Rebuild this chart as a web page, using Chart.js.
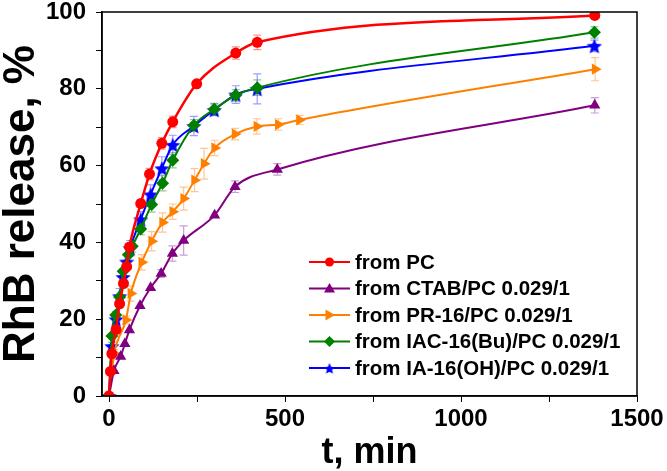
<!DOCTYPE html>
<html>
<head>
<meta charset="utf-8">
<script src="https://cdn.jsdelivr.net/npm/chart.js@4.4.1/dist/chart.umd.min.js"></script>
<style>
  html, body { margin: 0; padding: 0; background: #fff; }
</style>
</head>
<body>
<canvas id="releaseChart" width="667" height="471"></canvas>
<script>
// time (min), release (%), error bar half-length (%)
const pcT = [0, 4, 8, 20, 30, 41, 50, 58, 90, 115, 150, 181, 249, 360, 421, 1380];
const pcY = [0, 6.4, 11, 17.3, 24, 29.3, 33.7, 38.8, 50.1, 57.8, 65.8, 71.4, 81.3, 89.3, 92.1, 99.1];
const pcErr = [0, 0, 0, 0, 0, 0, 0, 0, 1, 1.5, 1.5, 1.5, 0, 1.6, 1.9, 0];

const ctabT = [0, 14, 33, 45, 58, 88, 118, 148, 180, 212, 300, 358, 478, 1380];
const ctabY = [0, 6.6, 10.3, 13.6, 17.2, 23.5, 28.2, 31.9, 37.1, 40.5, 47.1, 54.5, 59, 75.7];
const ctabErr = [0, 0, 0, 0, 0, 0, 0, 1, 2, 3.8, 0, 1.5, 1.5, 2];

const prT = [0, 15, 48, 62, 93, 121, 152, 181, 212, 243, 270, 300, 358, 420, 481, 541, 1381];
const prY = [0, 11.1, 19.8, 26.7, 34.8, 40.3, 45.2, 48, 51.4, 56.2, 60.5, 64.6, 68.2, 70.2, 70.7, 71.9, 85.1];
const prErr = [0, 1, 1, 2, 2, 2.5, 2.5, 2, 3, 3, 4, 2, 1.5, 2, 1.5, 1.2, 3];

const iacT = [0, 8, 19, 30, 40, 55, 66, 90, 121, 152, 181, 241, 299, 360, 421, 1379];
const iacY = [0, 15.6, 21.1, 25.8, 32.5, 36.8, 39, 43.5, 49.9, 55.4, 61.4, 70.5, 74.7, 78.3, 80.3, 94.7];
const iacErr = [0, 0, 0, 0, 0, 0, 1.5, 1.5, 2, 2, 2, 1.5, 1.5, 1.5, 2, 1.5];

const iaT = [0, 8, 20, 30, 40, 50, 60, 90, 118, 150, 181, 241, 299, 360, 421, 1379];
const iaY = [0, 13, 20, 26, 31, 35, 38.5, 46, 52.5, 59.3, 65.4, 70.3, 74.5, 78.5, 80, 91.2];
const iaErr = [0, 1, 2, 2, 2, 2, 2, 2, 2.5, 3, 2.5, 2.5, 1.5, 2.3, 3.9, 1.5];

const seriesNames = ["from PC", "from CTAB/PC 0.029/1", "from PR-16/PC 0.029/1",
                     "from IAC-16(Bu)/PC 0.029/1", "from IA-16(OH)/PC 0.029/1"];
const xTicks = [0, 250, 500, 750, 1000, 1250, 1500];
const yTicks = [0, 10, 20, 30, 40, 50, 60, 70, 80, 90, 100];

function pts(xs, ys) {
    return xs.map((x, i) => ({ x: x, y: ys[i] }));
}

// filled five-point star used as the blue marker
function makeStar(size, color) {
    const c = document.createElement("canvas");
    c.width = size; c.height = size;
    const g = c.getContext("2d");
    const r1 = size / 2, r2 = r1 * 0.45;
    g.beginPath();
    for (let i = 0; i < 10; i++) {
        const r = i % 2 ? r2 : r1;
        const a = -Math.PI / 2 + i * Math.PI / 5;
        g.lineTo(r1 + r * Math.cos(a), r1 + 1 + r * Math.sin(a));
    }
    g.closePath();
    g.fillStyle = color;
    g.fill();
    return c;
}
const starImg = makeStar(16, "#0000ff");
const starSmall = makeStar(12, "#0000ff");

// error bars drawn under the markers
const errorBars = {
    id: "errorBars",
    beforeDatasetsDraw(chart) {
        const ctx = chart.ctx;
        const xs = chart.scales.x, ys = chart.scales.y;
        chart.data.datasets.forEach(ds => {
            ctx.save();
            ctx.strokeStyle = ds.errColor;
            ctx.lineWidth = 1.2;
            ds.data.forEach((p, i) => {
                const e = ds.errors[i];
                if (!e) return;
                const px = xs.getPixelForValue(p.x);
                const top = ys.getPixelForValue(p.y + e);
                const bot = ys.getPixelForValue(p.y - e);
                ctx.beginPath();
                ctx.moveTo(px, top); ctx.lineTo(px, bot);
                ctx.moveTo(px - 4, top); ctx.lineTo(px + 4, top);
                ctx.moveTo(px - 4, bot); ctx.lineTo(px + 4, bot);
                ctx.stroke();
            });
            ctx.restore();
        });
    }
};

function legendMarker(ctx, kind, x, y, color) {
    ctx.fillStyle = color;
    ctx.beginPath();
    if (kind === "circle") {
        ctx.arc(x, y, 4.5, 0, Math.PI * 2);
    } else if (kind === "up") {
        ctx.moveTo(x, y - 5.5); ctx.lineTo(x + 5.5, y + 4); ctx.lineTo(x - 5.5, y + 4);
    } else if (kind === "right") {
        ctx.moveTo(x + 5.5, y); ctx.lineTo(x - 4, y - 5.5); ctx.lineTo(x - 4, y + 5.5);
    } else if (kind === "diamond") {
        ctx.moveTo(x, y - 5.5); ctx.lineTo(x + 5.5, y); ctx.lineTo(x, y + 5.5); ctx.lineTo(x - 5.5, y);
    } else if (kind === "star") {
        ctx.drawImage(starSmall, x - 6, y - 6);
        return;
    }
    ctx.closePath();
    ctx.fill();
}

// frame box + legend inside the plot
const frameAndLegend = {
    id: "frameAndLegend",
    afterDraw(chart) {
        const ctx = chart.ctx;
        const a = chart.chartArea;
        ctx.save();
        ctx.strokeStyle = "#000";
        ctx.lineWidth = 1.5;
        ctx.strokeRect(a.left, a.top, a.right - a.left, a.bottom - a.top);

        ctx.font = "bold 20.5px 'Liberation Sans', Arial, sans-serif";
        ctx.textBaseline = "middle";
        chart.data.datasets.forEach((ds, i) => {
            const y = a.top + 250 + i * 26.5;
            const x0 = a.left + 207, x1 = a.left + 248;
            ctx.strokeStyle = ds.borderColor;
            ctx.lineWidth = 2;
            ctx.beginPath(); ctx.moveTo(x0, y); ctx.lineTo(x1, y); ctx.stroke();
            legendMarker(ctx, ds.legendKind, (x0 + x1) / 2, y, ds.borderColor);
            ctx.fillStyle = "#000";
            ctx.fillText(ds.label, x1 + 5, y + 1);
        });
        ctx.restore();
    }
};

function series(i, xs, ys, errs, color, errColor, style, radius, rotation, kind, width) {
    return {
        label: seriesNames[i],
        data: pts(xs, ys),
        errors: errs,
        errColor: errColor,
        legendKind: kind,
        borderColor: color,
        backgroundColor: color,
        borderWidth: width,
        pointStyle: style,
        pointRadius: radius,
        pointRotation: rotation,
        pointBorderWidth: 0,
        cubicInterpolationMode: "monotone",
        tension: 0.4,
        fill: false
    };
}

new Chart(document.getElementById("releaseChart"), {
    type: "line",
    data: {
        datasets: [
            series(0, pcT, pcY, pcErr, "#ff0000", "rgba(255,60,60,0.55)", "circle", 5.5, 0, "circle", 2.5),
            series(1, ctabT, ctabY, ctabErr, "#800080", "rgba(150,60,170,0.5)", "triangle", 6.5, 0, "up", 2),
            series(2, prT, prY, prErr, "#ff8000", "rgba(255,150,60,0.55)", "triangle", 6.5, 90, "right", 2),
            series(3, iacT, iacY, iacErr, "#008000", "rgba(40,150,40,0.5)", "rectRot", 6.5, 0, "diamond", 2),
            series(4, iaT, iaY, iaErr, "#0000ff", "rgba(60,60,255,0.5)", starImg, 8, 0, "star", 2)
        ]
    },
    options: {
        responsive: false,
        animation: false,
        layout: { autoPadding: false, padding: { top: 12, right: 30, left: 0, bottom: 0 } },
        plugins: { legend: { display: false }, tooltip: { enabled: false } },
        scales: {
            x: {
                type: "linear",
                min: -20,
                max: 1500,
                afterBuildTicks: s => { s.ticks = xTicks.map(v => ({ value: v })); },
                afterFit: s => { s.height = 75; s.paddingLeft = 0; s.paddingRight = 0; },
                border: { display: true, color: "#000", width: 1.5 },
                grid: { drawOnChartArea: false, drawTicks: true, tickLength: 6, color: "#000" },
                ticks: {
                    color: "#000",
                    padding: 5,
                    maxRotation: 0,
                    autoSkip: false,
                    font: { family: "'Liberation Sans', Arial, sans-serif", size: 24, weight: "bold", lineHeight: 1 },
                    callback: v => (v % 500 === 0 ? v : "")
                },
                title: {
                    display: true,
                    text: "t, min",
                    color: "#000",
                    padding: 0,
                    font: { family: "'Liberation Sans', Arial, sans-serif", size: 36, weight: "bold", lineHeight: 1 }
                }
            },
            y: {
                min: 0,
                max: 100,
                afterBuildTicks: s => { s.ticks = yTicks.map(v => ({ value: v })); },
                afterFit: s => { s.width = 102; s.paddingTop = 0; s.paddingBottom = 0; },
                border: { display: true, color: "#000", width: 1.5 },
                grid: { drawOnChartArea: false, drawTicks: true, tickLength: 6, color: "#000" },
                ticks: {
                    color: "#000",
                    padding: 10,
                    autoSkip: false,
                    font: { family: "'Liberation Sans', Arial, sans-serif", size: 24, weight: "bold", lineHeight: 1 },
                    callback: v => (v % 20 === 0 ? v : "")
                },
                title: {
                    display: true,
                    text: "RhB release, %",
                    color: "#000",
                    padding: 0,
                    font: { family: "'Liberation Sans', Arial, sans-serif", size: 44, weight: "bold", lineHeight: 1 }
                }
            }
        }
    },
    plugins: [errorBars, frameAndLegend]
});
</script>
</body>
</html>
